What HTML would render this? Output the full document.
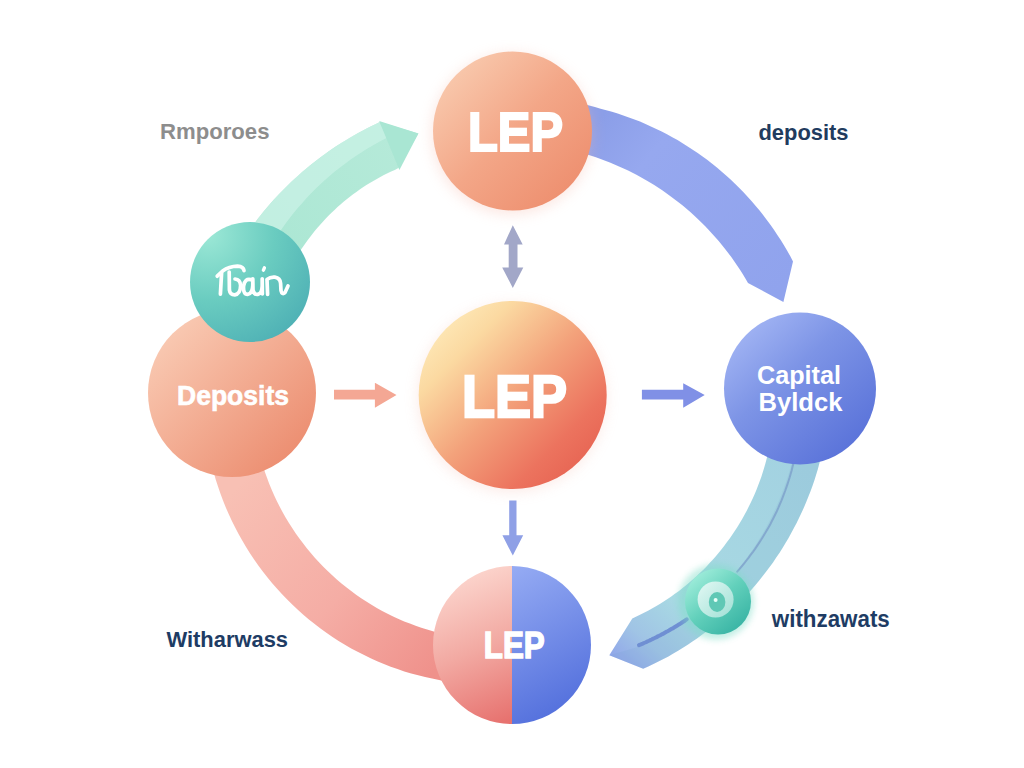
<!DOCTYPE html>
<html><head><meta charset="utf-8">
<style>
html,body{margin:0;padding:0;background:#fff;width:1024px;height:768px;overflow:hidden}
svg{display:block}
text{font-family:"Liberation Sans",sans-serif;font-weight:bold}
</style></head><body>
<svg width="1024" height="768" viewBox="0 0 1024 768">
<defs>
  <filter id="blur6" x="-50%" y="-50%" width="200%" height="200%"><feGaussianBlur stdDeviation="7"/></filter>
  <filter id="blur3" x="-50%" y="-50%" width="200%" height="200%"><feGaussianBlur stdDeviation="3"/></filter>
  <linearGradient id="gGreen" gradientUnits="userSpaceOnUse" x1="280" y1="240" x2="410" y2="140">
    <stop offset="0" stop-color="#ace7d4"/><stop offset="1" stop-color="#b6ead9"/></linearGradient>
  <linearGradient id="gBlue" gradientUnits="userSpaceOnUse" x1="590" y1="130" x2="780" y2="290">
    <stop offset="0" stop-color="#8b9ee8"/><stop offset="0.25" stop-color="#96a8ef"/><stop offset="1" stop-color="#90a3ed"/></linearGradient>
  <linearGradient id="gTeal" gradientUnits="userSpaceOnUse" x1="800" y1="460" x2="615" y2="665">
    <stop offset="0" stop-color="#a3d2e1"/><stop offset="0.68" stop-color="#a8d9e3"/><stop offset="0.86" stop-color="#a0c4e5"/><stop offset="1" stop-color="#8fa4ea"/></linearGradient>
  <linearGradient id="gPink" gradientUnits="userSpaceOnUse" x1="235" y1="490" x2="440" y2="665">
    <stop offset="0" stop-color="#f8c0b4"/><stop offset="0.55" stop-color="#f5ada5"/><stop offset="1" stop-color="#ef918b"/></linearGradient>
  <linearGradient id="cTop" x1="0" y1="0" x2="1" y2="1">
    <stop offset="0" stop-color="#fad3b8"/><stop offset="0.5" stop-color="#f3a687"/><stop offset="1" stop-color="#ec8868"/></linearGradient>
  <linearGradient id="cMid" x1="0" y1="0" x2="1" y2="1">
    <stop offset="0.1" stop-color="#feeab9"/><stop offset="0.25" stop-color="#fbd9a1"/><stop offset="0.5" stop-color="#f3a27b"/><stop offset="0.75" stop-color="#ec735e"/><stop offset="1" stop-color="#e2584a"/></linearGradient>
  <linearGradient id="cDep" x1="0" y1="0" x2="1" y2="1">
    <stop offset="0" stop-color="#fbd3bd"/><stop offset="1" stop-color="#ea8466"/></linearGradient>
  <radialGradient id="cTeal" cx="0.15" cy="0.1" r="1.1" fx="0.15" fy="0.1">
    <stop offset="0" stop-color="#9ce8d6"/><stop offset="0.5" stop-color="#6accc0"/><stop offset="1" stop-color="#4caeb4"/></radialGradient>
  <linearGradient id="cCap" x1="0.1" y1="0.05" x2="0.9" y2="0.95">
    <stop offset="0" stop-color="#a6b8f5"/><stop offset="0.4" stop-color="#7d94e6"/><stop offset="1" stop-color="#566fd8"/></linearGradient>
  <linearGradient id="cBotL" gradientUnits="userSpaceOnUse" x1="445" y1="580" x2="505" y2="722">
    <stop offset="0" stop-color="#fcd6ce"/><stop offset="0.5" stop-color="#f2a9a2"/><stop offset="1" stop-color="#e7726f"/></linearGradient>
  <linearGradient id="cBotR" gradientUnits="userSpaceOnUse" x1="512" y1="570" x2="590" y2="710">
    <stop offset="0" stop-color="#94aaf3"/><stop offset="1" stop-color="#4f6cdb"/></linearGradient>
  <linearGradient id="cNode" x1="0.1" y1="0.05" x2="0.85" y2="0.95">
    <stop offset="0" stop-color="#a6f0de"/><stop offset="0.5" stop-color="#62d0bb"/><stop offset="1" stop-color="#36b2a3"/></linearGradient>
  <linearGradient id="cRing" x1="0.1" y1="0.1" x2="0.9" y2="0.9">
    <stop offset="0" stop-color="#dcf6f1"/><stop offset="1" stop-color="#a6e2d8"/></linearGradient>
  <clipPath id="clipBot"><circle cx="512" cy="645" r="79"/></clipPath>
</defs>

<!-- bands -->
<path d="M204.1,405.8 L204.4,413.2 L205.0,420.7 L205.7,428.1 L206.6,435.5 L207.6,442.9 L208.9,450.3 L210.3,457.6 L211.9,464.9 L213.7,472.2 L215.7,479.4 L218.0,486.5 L220.4,493.6 L223.0,500.6 L225.8,507.5 L228.8,514.3 L231.9,521.1 L235.3,527.8 L238.7,534.3 L242.4,540.8 L246.2,547.2 L250.1,553.5 L254.3,559.7 L258.5,565.7 L263.0,571.7 L267.5,577.5 L272.2,583.2 L277.1,588.8 L282.1,594.3 L287.2,599.6 L292.5,604.8 L297.8,609.8 L303.3,614.7 L308.9,619.4 L314.7,624.0 L320.5,628.5 L326.4,632.8 L332.5,636.9 L338.6,640.9 L344.9,644.7 L351.2,648.4 L357.6,651.8 L364.1,655.1 L370.6,658.3 L377.2,661.2 L383.9,664.0 L390.7,666.7 L397.5,669.1 L404.3,671.4 L411.2,673.4 L418.2,675.3 L425.1,677.1 L432.1,678.6 L439.1,680.1 L446.1,681.8 L453.0,683.3 L460.0,684.7 L467.1,685.8 L474.1,686.8 L481.2,687.7 L486.0,642.7 L480.0,642.0 L474.0,641.2 L468.0,640.2 L462.1,639.1 L456.2,637.8 L450.3,636.3 L444.5,634.8 L438.7,633.1 L432.9,631.2 L427.1,629.5 L421.3,627.7 L415.6,625.8 L409.9,623.6 L404.2,621.4 L398.6,619.0 L393.1,616.4 L387.6,613.7 L382.2,610.9 L376.8,607.9 L371.5,604.8 L366.3,601.6 L361.2,598.2 L356.1,594.7 L351.2,591.1 L346.3,587.3 L341.5,583.5 L336.8,579.5 L332.2,575.3 L327.7,571.1 L323.3,566.7 L319.0,562.3 L314.8,557.7 L310.8,553.0 L306.8,548.2 L303.0,543.3 L299.2,538.3 L295.6,533.2 L292.2,528.1 L288.8,522.8 L285.6,517.4 L282.5,512.0 L279.6,506.5 L276.8,500.9 L274.1,495.2 L271.6,489.5 L269.2,483.7 L267.0,477.8 L264.9,471.9 L263.1,465.9 L261.5,459.8 L260.0,453.7 L258.6,447.6 L257.4,441.4 L256.4,435.3 L255.5,429.0 L254.7,422.8 L254.1,416.6 L253.7,410.3 L253.4,404.0 Z" fill="url(#gPink)"/>
<path d="M826.7,406.0 L826.4,411.8 L826.0,417.6 L825.6,423.4 L825.0,429.2 L824.3,434.9 L823.5,440.7 L822.6,446.4 L821.6,452.2 L820.5,457.9 L819.3,463.6 L817.8,469.2 L816.1,474.7 L814.4,480.3 L812.5,485.8 L810.5,491.2 L808.4,496.6 L806.2,502.0 L804.0,507.3 L801.6,512.6 L799.1,517.8 L796.6,523.0 L793.9,528.1 L791.2,533.1 L788.4,538.2 L785.5,543.1 L782.5,548.0 L779.4,552.9 L776.2,557.6 L773.0,562.4 L769.6,567.0 L766.2,571.6 L762.7,576.1 L759.2,580.6 L755.5,585.0 L751.8,589.3 L748.0,593.5 L744.1,597.7 L740.1,601.8 L736.1,605.8 L732.0,609.8 L727.9,613.6 L723.7,617.4 L719.4,621.1 L715.0,624.8 L710.6,628.3 L706.1,631.8 L701.6,635.1 L697.0,638.4 L692.4,641.6 L687.7,644.8 L682.9,647.8 L678.1,650.7 L673.3,653.6 L668.4,656.4 L663.4,659.0 L658.4,661.6 L653.4,664.1 L648.3,666.5 L643.2,668.8 L609.3,655.3 L632.3,618.5 L636.4,616.6 L640.5,614.6 L644.5,612.6 L648.5,610.5 L652.4,608.3 L656.4,606.1 L660.2,603.7 L664.1,601.3 L667.9,598.8 L671.6,596.2 L675.3,593.6 L679.0,590.9 L682.6,588.1 L686.1,585.2 L689.6,582.3 L693.1,579.3 L696.5,576.2 L699.8,573.1 L703.1,569.9 L706.3,566.7 L709.4,563.3 L712.5,559.9 L715.6,556.5 L718.5,553.0 L721.4,549.4 L724.3,545.8 L727.0,542.1 L729.7,538.4 L732.4,534.6 L734.9,530.8 L737.4,526.9 L739.8,523.0 L742.2,519.0 L744.4,514.9 L746.6,510.9 L748.7,506.8 L750.8,502.6 L752.7,498.4 L754.6,494.2 L756.4,489.9 L758.1,485.6 L759.7,481.3 L761.3,476.9 L762.7,472.5 L764.1,468.1 L765.4,463.6 L766.6,459.1 L767.7,454.6 L768.7,450.1 L769.6,445.6 L770.5,441.0 L771.2,436.4 L771.9,431.9 L772.6,427.3 L773.1,422.7 L773.5,418.0 L773.9,413.4 L774.2,408.8 L774.4,404.2 Z" fill="url(#gTeal)"/>
<path d="M826.7,406.0 L826.4,411.8 L826.0,417.6 L825.6,423.4 L825.0,429.2 L824.3,434.9 L823.5,440.7 L822.6,446.4 L821.6,452.2 L820.5,457.9 L819.3,463.6 L817.8,469.2 L816.1,474.7 L814.4,480.3 L812.5,485.8 L810.5,491.2 L808.4,496.6 L806.2,502.0 L804.0,507.3 L801.6,512.6 L799.1,517.8 L796.6,523.0 L793.9,528.1 L791.2,533.1 L788.4,538.2 L785.5,543.1 L782.5,548.0 L779.4,552.9 L776.2,557.6 L773.0,562.4 L769.6,567.0 L766.2,571.6 L762.7,576.1 L759.2,580.6 L755.5,585.0 L751.8,589.3 L748.0,593.5 L744.1,597.7 L740.1,601.8 L736.1,605.8 L732.0,609.8 L727.9,613.6 L723.7,617.4 L719.4,621.1 L715.0,624.8 L710.6,628.3 L706.1,631.8 L701.6,635.1 L697.0,638.4 L692.4,641.6 L687.7,644.8 L682.9,647.8 L678.1,650.7 L673.3,653.6 L668.4,656.4 L663.4,659.0 L658.4,661.6 L653.4,664.1 L648.3,666.5 L643.2,668.8 L609.3,655.3 L644.9,645.0 L649.4,642.7 L653.8,640.3 L658.2,637.8 L662.5,635.2 L666.8,632.6 L671.1,629.9 L675.3,627.1 L679.4,624.3 L683.5,621.4 L687.6,618.4 L691.6,615.3 L695.5,612.1 L699.4,608.9 L703.2,605.6 L707.0,602.3 L710.7,598.9 L714.4,595.4 L718.0,591.8 L721.5,588.2 L725.0,584.5 L728.4,580.8 L731.7,577.0 L735.0,573.1 L738.2,569.2 L741.4,565.2 L744.4,561.1 L747.4,557.1 L750.3,552.9 L753.2,548.7 L756.0,544.5 L758.7,540.1 L761.3,535.8 L763.8,531.4 L766.3,527.0 L768.7,522.5 L771.0,517.9 L773.2,513.4 L775.4,508.7 L777.5,504.1 L779.4,499.4 L781.4,494.7 L783.2,489.9 L784.9,485.1 L786.6,480.3 L788.1,475.4 L789.6,470.5 L791.0,465.6 L792.3,460.7 L793.5,455.7 L794.7,450.7 L795.7,445.7 L796.7,440.7 L797.5,435.6 L798.3,430.6 L799.0,425.5 L799.6,420.4 L800.1,415.3 L800.5,410.2 L800.8,405.1 Z" fill="#6a9fc8" opacity="0.12"/>
<path d="M797.2,445.3 L796.6,448.9 L795.9,452.4 L795.1,456.0 L794.3,459.6 L793.5,463.1 L792.6,466.6 L791.7,470.2 L790.7,473.7 L789.7,477.2 L788.6,480.7 L787.5,484.1 L786.3,487.6 L785.1,491.0 L783.8,494.4 L782.5,497.8 L781.2,501.2 L779.7,504.5 L778.3,507.9 L776.8,511.2 L775.2,514.5 L773.6,517.7 L771.9,521.0 L770.3,524.2 L768.5,527.4 L766.7,530.5 L764.9,533.6 L763.0,536.7 L761.1,539.8 L759.1,542.9 L757.1,545.9 L755.1,548.9 L753.0,551.8 L750.8,554.7 L748.7,557.6 L746.4,560.5 L744.2,563.3 L741.9,566.1 L739.6,568.9 L737.2,571.6" fill="none" stroke="#7fa2cb" stroke-width="2" opacity="0.85" stroke-linecap="round"/>
<path d="M686.7,619.4 L685.5,620.2 L684.4,621.0 L683.2,621.7 L682.0,622.5 L680.8,623.3 L679.7,624.0 L678.5,624.7 L677.3,625.5 L676.1,626.2 L674.9,626.9 L673.7,627.7 L672.5,628.4 L671.3,629.1 L670.1,629.8 L668.9,630.5 L667.6,631.2 L666.4,631.8 L665.2,632.5 L664.0,633.2 L662.8,633.9 L661.5,634.5 L660.3,635.2 L659.1,635.8 L657.8,636.4 L656.6,637.1 L655.3,637.7 L654.1,638.3 L652.8,638.9 L651.6,639.5 L650.3,640.1 L649.1,640.7 L647.8,641.3 L646.6,641.9 L645.3,642.5 L644.0,643.0 L642.8,643.6 L641.5,644.1 L640.2,644.7 L639.0,645.2" fill="none" stroke="#6f8fd3" stroke-width="4" stroke-linecap="round"/>
<path d="M501.5,95.5 L507.4,95.4 L513.3,95.3 L519.3,95.4 L525.2,95.6 L531.0,95.9 L536.9,96.4 L542.8,96.9 L548.7,97.6 L554.5,98.4 L560.4,99.3 L566.2,100.3 L572.0,101.4 L577.8,102.6 L583.5,104.0 L589.2,105.5 L594.9,107.0 L600.6,108.7 L606.3,110.2 L612.0,111.8 L617.7,113.6 L623.3,115.4 L628.9,117.4 L634.5,119.5 L640.0,121.6 L645.5,124.0 L650.9,126.4 L656.3,128.9 L661.7,131.5 L667.0,134.3 L672.3,137.2 L677.5,140.1 L682.6,143.2 L687.7,146.4 L692.7,149.7 L697.7,153.0 L702.6,156.5 L707.5,160.1 L712.2,163.8 L716.9,167.6 L721.5,171.5 L726.1,175.5 L730.6,179.5 L735.0,183.7 L739.3,188.0 L743.5,192.3 L747.6,196.7 L751.7,201.3 L755.7,205.9 L759.6,210.6 L763.3,215.3 L767.0,220.2 L770.6,225.1 L774.1,230.1 L777.5,235.2 L780.9,240.3 L784.1,245.5 L787.2,250.8 L790.2,256.1 L793.0,261.6 L783.4,302.1 L748.0,282.9 L745.4,278.5 L742.7,274.1 L740.0,269.7 L737.1,265.5 L734.2,261.2 L731.3,257.1 L728.2,253.0 L725.1,248.9 L721.9,244.9 L718.7,241.0 L715.3,237.2 L711.9,233.4 L708.5,229.7 L705.0,226.0 L701.4,222.4 L697.8,218.9 L694.1,215.5 L690.3,212.1 L686.5,208.8 L682.7,205.6 L678.8,202.4 L674.8,199.4 L670.8,196.4 L666.7,193.4 L662.6,190.6 L658.4,187.8 L654.2,185.1 L650.0,182.5 L645.7,179.9 L641.3,177.5 L636.9,175.1 L632.5,172.8 L628.1,170.6 L623.6,168.5 L619.0,166.4 L614.5,164.4 L609.9,162.6 L605.2,160.8 L600.6,159.0 L595.9,157.3 L591.2,155.7 L586.5,154.2 L581.7,152.8 L576.9,151.5 L572.1,150.2 L567.3,149.1 L562.4,148.1 L557.6,147.1 L552.7,146.3 L547.8,145.5 L542.8,144.9 L537.9,144.3 L533.0,143.8 L528.0,143.5 L523.1,143.2 L518.1,143.0 L513.1,143.0 L508.2,143.0 L503.2,143.1 Z" fill="url(#gBlue)"/>
<path d="M207.4,341.3 L208.3,336.4 L209.2,331.6 L210.3,326.7 L211.4,321.9 L212.6,317.1 L213.9,312.3 L215.3,307.5 L216.7,302.8 L218.2,298.1 L219.8,293.4 L221.5,288.7 L223.2,284.1 L225.0,279.5 L226.9,274.9 L228.9,270.3 L230.9,265.8 L233.0,261.3 L235.2,256.9 L237.5,252.5 L239.8,248.1 L242.2,243.7 L244.6,239.4 L247.1,235.2 L249.7,230.9 L252.4,226.8 L255.1,222.6 L258.0,218.6 L261.0,214.7 L264.2,210.8 L267.4,207.1 L270.6,203.3 L273.9,199.6 L277.3,196.0 L280.6,192.4 L284.1,188.9 L287.6,185.4 L291.1,182.0 L294.7,178.7 L298.4,175.4 L302.1,172.1 L305.8,169.0 L309.6,165.8 L313.4,162.8 L317.3,159.8 L321.2,156.8 L325.1,153.9 L329.1,151.1 L333.1,148.3 L337.2,145.6 L341.3,143.0 L345.5,140.4 L349.6,137.9 L353.9,135.5 L358.1,133.1 L362.4,130.8 L366.7,128.5 L371.0,126.3 L375.4,124.2 L379.8,122.1 L418.4,133.6 L398.4,168.1 L394.8,169.9 L391.1,171.5 L387.5,173.3 L383.9,175.1 L380.3,176.9 L376.8,178.9 L373.3,180.9 L369.8,182.9 L366.4,185.1 L363.0,187.3 L359.7,189.6 L356.4,191.9 L353.1,194.3 L349.9,196.7 L346.7,199.2 L343.6,201.8 L340.5,204.4 L337.5,207.1 L334.5,209.9 L331.5,212.7 L328.7,215.5 L325.8,218.4 L323.1,221.4 L320.4,224.4 L317.7,227.4 L315.1,230.5 L312.6,233.7 L310.1,236.9 L307.6,240.2 L305.3,243.4 L303.0,246.8 L300.7,250.1 L298.4,253.5 L296.2,256.9 L294.1,260.3 L292.0,263.7 L289.9,267.2 L287.9,270.8 L286.0,274.3 L284.1,277.9 L282.3,281.5 L280.5,285.2 L278.8,288.8 L277.2,292.5 L275.6,296.2 L274.1,300.0 L272.6,303.8 L271.2,307.6 L269.8,311.4 L268.5,315.2 L267.3,319.1 L266.1,322.9 L265.0,326.8 L264.0,330.7 L263.0,334.7 L262.1,338.6 L261.2,342.6 L260.4,346.5 L259.7,350.5 Z" fill="url(#gGreen)"/>
<path d="M207.4,341.3 L208.3,336.4 L209.2,331.6 L210.3,326.7 L211.4,321.9 L212.6,317.1 L213.9,312.3 L215.3,307.6 L216.7,302.8 L218.2,298.1 L219.8,293.4 L221.5,288.8 L223.2,284.1 L225.0,279.5 L226.9,274.9 L228.9,270.4 L230.9,265.9 L233.0,261.4 L235.2,256.9 L237.4,252.5 L239.7,248.2 L242.1,243.8 L244.6,239.5 L247.1,235.3 L249.7,231.0 L252.3,226.9 L255.1,222.7 L257.9,218.7 L261.0,214.8 L264.1,210.9 L267.3,207.2 L270.5,203.4 L273.8,199.7 L277.1,196.1 L280.5,192.5 L284.0,189.0 L287.5,185.6 L291.0,182.1 L294.6,178.8 L298.2,175.5 L301.9,172.3 L305.7,169.1 L309.4,165.9 L313.3,162.9 L317.1,159.9 L321.0,156.9 L325.0,154.0 L328.9,151.2 L333.0,148.5 L337.0,145.8 L341.1,143.1 L345.3,140.5 L349.4,138.0 L353.6,135.6 L357.9,133.2 L362.2,130.9 L366.5,128.6 L370.8,126.4 L375.2,124.3 L379.6,122.3 L387.1,137.7 L383.0,139.8 L378.9,141.9 L374.9,144.2 L371.0,146.4 L367.1,148.8 L363.2,151.2 L359.3,153.7 L355.5,156.2 L351.8,158.8 L348.0,161.4 L344.4,164.2 L340.7,166.9 L337.1,169.7 L333.6,172.6 L330.1,175.6 L326.7,178.6 L323.3,181.6 L319.9,184.7 L316.6,187.8 L313.4,191.0 L310.2,194.3 L307.1,197.6 L304.0,201.0 L301.0,204.4 L298.0,207.8 L295.1,211.3 L292.2,214.8 L289.4,218.4 L286.7,222.0 L284.0,225.7 L281.4,229.4 L278.8,233.2 L276.3,237.0 L273.9,240.8 L271.5,244.7 L269.2,248.6 L266.9,252.5 L264.7,256.5 L262.6,260.5 L260.5,264.5 L258.5,268.6 L256.6,272.7 L254.7,276.8 L252.9,281.0 L251.2,285.2 L249.6,289.4 L248.0,293.6 L246.4,297.9 L245.0,302.2 L243.6,306.5 L242.3,310.8 L241.0,315.2 L239.9,319.5 L238.8,323.9 L237.7,328.3 L236.8,332.7 L235.9,337.1 L235.0,341.6 L234.3,346.0 Z" fill="#c9f2e5" opacity="0.75"/>
<path d="M379.2,120.9 L418.4,133.6 L399.4,170.1 Z" fill="#a9e6d3"/>

<!-- shadows -->
<circle cx="512" cy="134" r="80" fill="#f6b8a8" opacity="0.35" filter="url(#blur6)"/>
<circle cx="512" cy="398" r="94" fill="#f3b0a0" opacity="0.25" filter="url(#blur6)"/>

<!-- circles -->
<circle cx="232" cy="393" r="84" fill="url(#cDep)"/>
<circle cx="250" cy="282" r="60" fill="url(#cTeal)"/>
<circle cx="512.5" cy="131" r="79.5" fill="url(#cTop)"/>
<circle cx="512.7" cy="395" r="94" fill="url(#cMid)"/>
<circle cx="800" cy="388.5" r="76" fill="url(#cCap)"/>
<g clip-path="url(#clipBot)">
  <rect x="430" y="560" width="82" height="170" fill="url(#cBotL)"/>
  <rect x="512" y="560" width="82" height="170" fill="url(#cBotR)"/>
</g>

<!-- node -->
<circle cx="716" cy="602" r="38" fill="#7ddcc6" opacity="0.45" filter="url(#blur3)"/>
<circle cx="718" cy="601.4" r="33" fill="url(#cNode)"/>
<circle cx="715.6" cy="599.5" r="18" fill="url(#cRing)"/>
<ellipse cx="717.1" cy="602" rx="8.3" ry="10" fill="#5fc8b5"/>
<circle cx="715.6" cy="600" r="2" fill="#e8fff8"/>

<!-- small arrows -->
<path d="M512.8,225.2 L522.7,244.5 L517.5,244.5 L517.5,267.4 L523.3,267.4 L512.8,287.9 L502.2,267.4 L508.7,267.4 L508.7,244.5 L504,244.5 Z" fill="#a2a7c8"/>
<path d="M509.2,500.4 L516.5,500.4 L516.5,535.3 L523.2,535.3 L512.8,555.6 L502.4,535.3 L509.2,535.3 Z" fill="#8fa0e6"/>
<path d="M334,389.8 L374.9,389.8 L374.9,382.7 L396.5,395 L374.9,407.8 L374.9,399.4 L334,399.4 Z" fill="#f4a794"/>
<path d="M641.9,389.8 L683.2,389.8 L683.2,383.2 L704.7,395 L683.2,407.8 L683.2,399.4 L641.9,399.4 Z" fill="#8090e6"/>

<!-- texts -->
<text x="468" y="151.4" font-size="56" fill="#fff" stroke="#fff" stroke-width="2.2" textLength="95" lengthAdjust="spacingAndGlyphs">LEP</text>
<text x="462" y="416.9" font-size="59" fill="#fff" stroke="#fff" stroke-width="2.4" textLength="105" lengthAdjust="spacingAndGlyphs">LEP</text>
<text x="483.8" y="658" font-size="37" fill="#fff" stroke="#fff" stroke-width="1.4" textLength="61" lengthAdjust="spacingAndGlyphs">LEP</text>
<text x="177" y="405" font-size="27" fill="#fff" stroke="#fff" stroke-width="0.6" textLength="112" lengthAdjust="spacingAndGlyphs">Deposits</text>
<text x="757" y="384" font-size="25" fill="#fff" textLength="84" lengthAdjust="spacingAndGlyphs">Capital</text>
<text x="758.5" y="410.6" font-size="25" fill="#fff" textLength="84" lengthAdjust="spacingAndGlyphs">Byldck</text>
<text x="160" y="138.6" font-size="22" fill="#8d8d8d" textLength="109.5" lengthAdjust="spacingAndGlyphs">Rmporoes</text>
<text x="758.5" y="140" font-size="22" fill="#213b5e" textLength="90" lengthAdjust="spacingAndGlyphs">deposits</text>
<text x="166.5" y="646.7" font-size="22" fill="#1e3c64" textLength="121.5" lengthAdjust="spacingAndGlyphs">Witharwass</text>
<text x="771.8" y="626.5" font-size="23" fill="#1e3c64" textLength="118" lengthAdjust="spacingAndGlyphs">withzawats</text>

<!-- script on teal -->
<g fill="none" stroke="#fff" stroke-width="3.7" stroke-linecap="round" stroke-linejoin="round">
  <path d="M217.2,276.2 L222.6,271 Q229,266.4 237.5,266.2 Q243.4,266.6 244,270.6"/>
  <path d="M221.6,272.8 L220.4,294.2"/>
  <path d="M229.2,272 L229.4,290 Q230,294.8 234.8,294.8 Q240.4,294 240.6,285.5 Q240.2,279.4 235,279"/>
  <path d="M250.8,279.6 Q245,278 243.6,285.8 Q243,294.4 247.6,294.4 Q252.4,293.8 252.8,285.4 L252.8,278.8 L253,289.8 Q254,294.8 257.8,294.4 Q261.8,293.6 262.2,286 L262.2,278.8 L262.4,294"/>
  <path d="M264.4,267.8 L263.4,270.2" stroke-width="3.4"/>
  <path d="M267.6,294.4 L267,279.4 Q270.4,276.8 274.8,277.2 Q280.2,278 280.6,283.4 L281,290.6 Q282,295.2 285,292.6 L288,286"/>
</g>
</svg>
</body></html>
